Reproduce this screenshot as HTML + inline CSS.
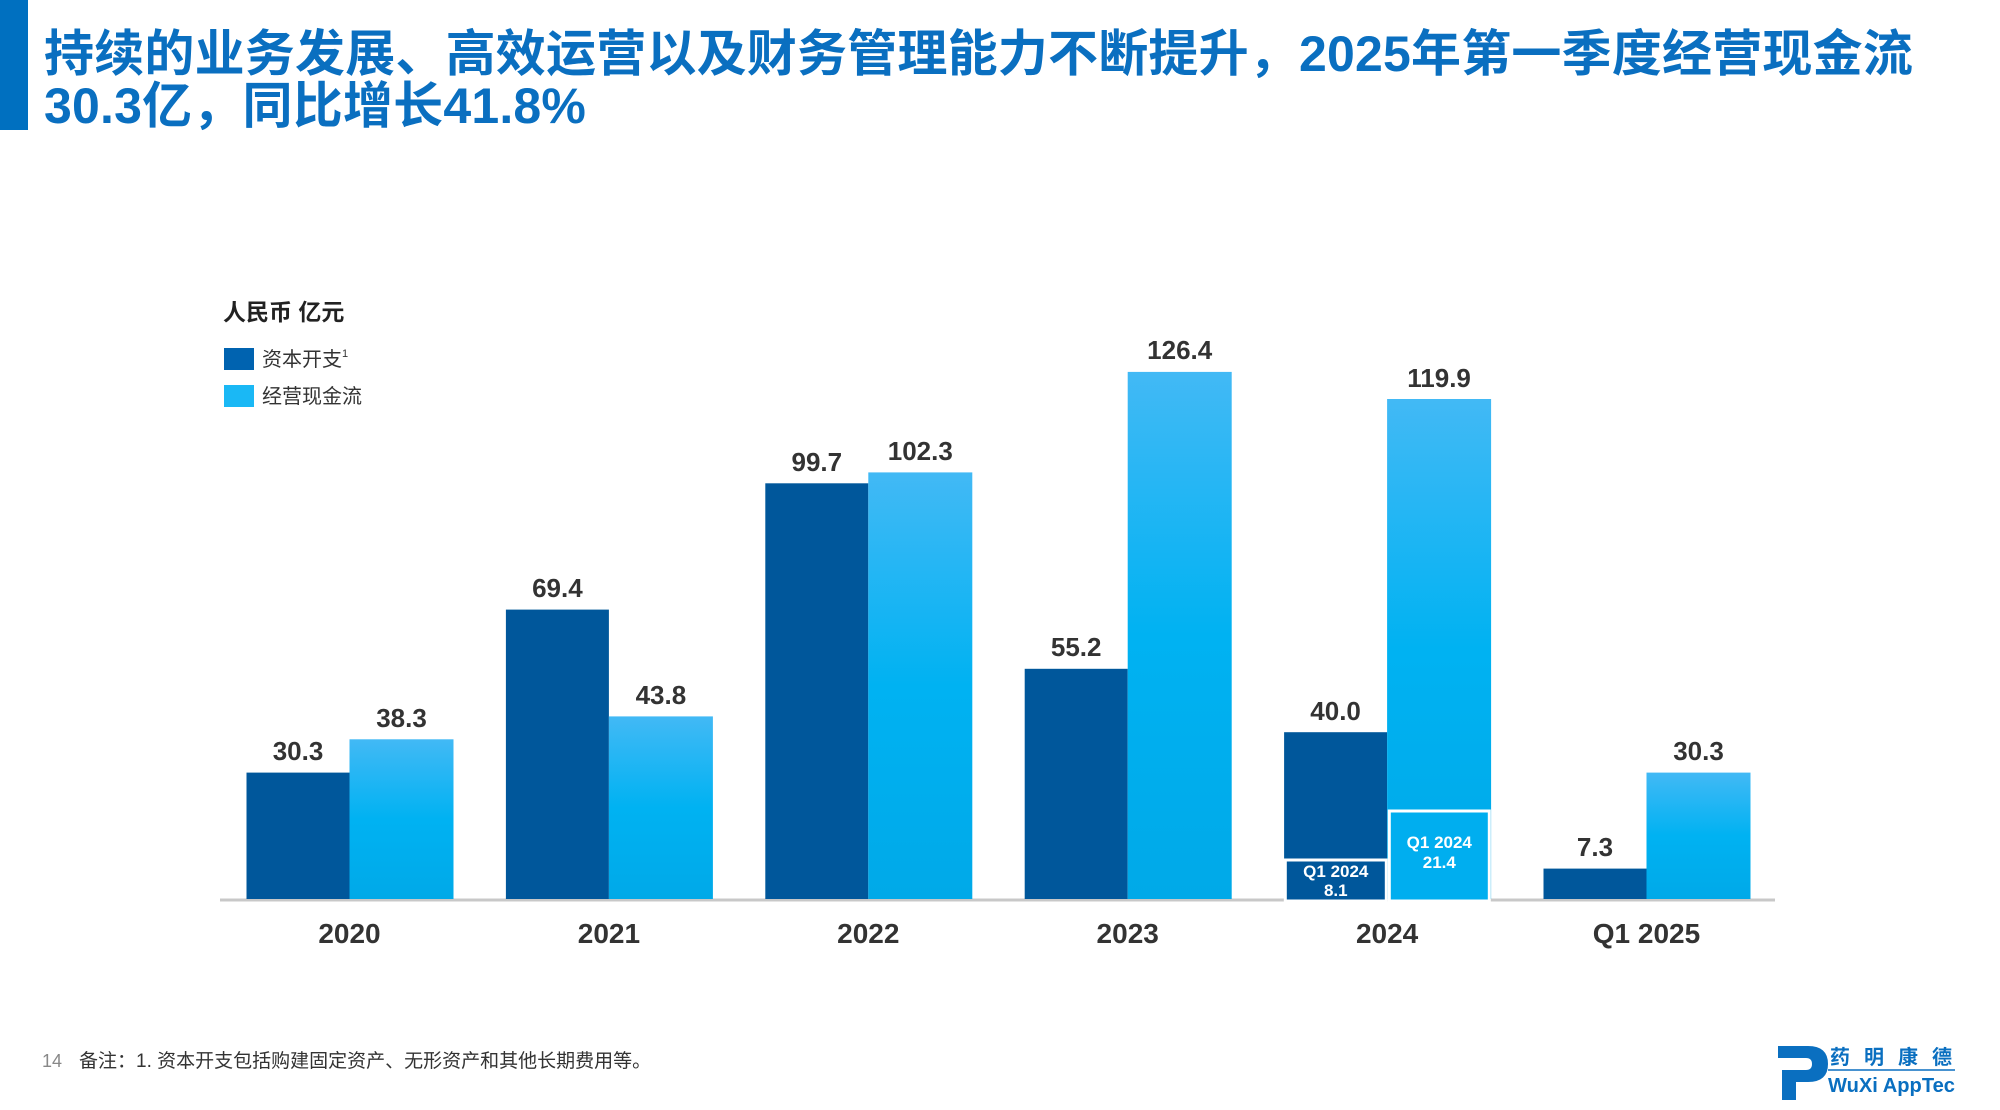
<!DOCTYPE html>
<html><head><meta charset="utf-8"><style>
html,body{margin:0;padding:0;background:#fff;}
body{width:2000px;height:1110px;position:relative;overflow:hidden;font-family:"Liberation Sans","Noto Sans CJK SC",sans-serif;}
.bar{position:absolute;left:0;top:0;width:28px;height:130px;background:#0070c0;}
.title{position:absolute;left:44px;top:28px;font-size:50px;line-height:52px;font-weight:bold;color:#0a6fc0;letter-spacing:0.2px;white-space:nowrap;font-family:"Liberation Sans","Noto Sans CJK SC",sans-serif;}
</style></head><body>
<div class="bar"></div>
<div class="title">持续的业务发展、高效运营以及财务管理能力不断提升，2025年第一季度经营现金流<br>30.3亿，同比增长41.8%</div>
<svg width="2000" height="1110" viewBox="0 0 2000 1110" style="position:absolute;left:0;top:0" font-family="Liberation Sans, Noto Sans CJK SC, sans-serif">
<defs>
<linearGradient id="lg" x1="0" y1="0" x2="0" y2="1"><stop offset="0" stop-color="#42b9f5"/><stop offset="0.5" stop-color="#00b2f2"/><stop offset="1" stop-color="#00a9e8"/></linearGradient>
</defs>
<text x="223" y="320" font-size="23" font-weight="bold" fill="#222">人民币 亿元</text>
<rect x="224" y="348" width="30" height="22" fill="#0063b0"/>
<text x="262" y="366" font-size="20" fill="#333">资本开支<tspan font-size="11" dy="-9">1</tspan></text>
<rect x="224" y="385" width="30" height="22" fill="#1ab8f5"/>
<text x="262" y="403" font-size="20" fill="#333">经营现金流</text>
<line x1="220" y1="900" x2="1775" y2="900" stroke="#c8c8c8" stroke-width="3"/>
<g fill="#00579b">
<rect x="246.5" y="772.6" width="103" height="126.4"/>
<rect x="505.9" y="609.6" width="103" height="289.4"/>
<rect x="765.3" y="483.3" width="103" height="415.7"/>
<rect x="1024.7" y="668.8" width="103" height="230.2"/>
<rect x="1284.1" y="732.2" width="103" height="166.8"/>
<rect x="1543.5" y="868.6" width="103" height="30.4"/>
</g>
<g fill="url(#lg)">
<rect x="349.5" y="739.3" width="104" height="159.7"/>
<rect x="608.9" y="716.4" width="104" height="182.6"/>
<rect x="868.3" y="472.4" width="104" height="426.6"/>
<rect x="1127.7" y="371.9" width="104" height="527.1"/>
<rect x="1387.1" y="399" width="104" height="500"/>
<rect x="1646.5" y="772.6" width="104" height="126.4"/>
</g>
<rect x="1285.3" y="860" width="101" height="41" fill="#00579b" stroke="#fff" stroke-width="3"/>
<rect x="1389.3" y="811" width="100" height="90" fill="#00aeef" stroke="#fff" stroke-width="3"/>
<g font-size="17" font-weight="bold" fill="#fff" text-anchor="middle">
<text x="1335.8" y="877">Q1 2024</text><text x="1335.8" y="896">8.1</text>
<text x="1439.3" y="848">Q1 2024</text><text x="1439.3" y="868">21.4</text>
</g>
<g font-size="26" font-weight="bold" fill="#333" text-anchor="middle">
<text x="298" y="760">30.3</text><text x="401.5" y="727">38.3</text>
<text x="557.4" y="597">69.4</text><text x="660.9" y="704">43.8</text>
<text x="816.8" y="471">99.7</text><text x="920.3" y="460">102.3</text>
<text x="1076.2" y="656">55.2</text><text x="1179.7" y="359">126.4</text>
<text x="1335.6" y="720">40.0</text><text x="1439.1" y="387">119.9</text>
<text x="1595" y="856">7.3</text><text x="1698.5" y="760">30.3</text>
</g>
<g font-size="28" font-weight="bold" fill="#333" text-anchor="middle">
<text x="349.5" y="943">2020</text><text x="608.9" y="943">2021</text>
<text x="868.3" y="943">2022</text><text x="1127.7" y="943">2023</text>
<text x="1387.1" y="943">2024</text><text x="1646.5" y="943">Q1 2025</text>
</g>
<text x="42" y="1067" font-size="18" fill="#888">14</text>
<text x="79" y="1067" font-size="19" fill="#333">备注：1. 资本开支包括购建固定资产、无形资产和其他长期费用等。</text>
<g>
<path d="M1778 1046 h30 q20 0 20 18 q0 18 -20 18 h-12 v18 h-14 v-30 h24 q6 0 6 -6 q0 -6 -6 -6 h-28 z" fill="#0a6fc0"/>
<text x="1830" y="1064" font-size="20" fill="#0a6fc0" letter-spacing="14" font-weight="bold">药明康德</text>
<line x1="1828" y1="1070" x2="1955" y2="1070" stroke="#0a6fc0" stroke-width="1.5"/>
<text x="1828" y="1092" font-size="20" font-weight="bold" fill="#0a6fc0" textLength="127" lengthAdjust="spacingAndGlyphs">WuXi AppTec</text>
</g>
</svg>
</body></html>
